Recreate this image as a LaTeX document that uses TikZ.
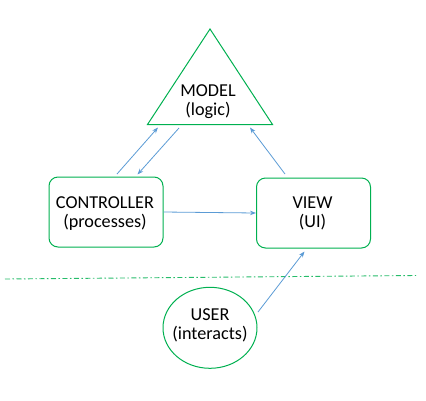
\documentclass[tikz,border=0pt]{standalone}
\usepackage{fontspec}
\setmainfont{Carlito}
\usetikzlibrary{arrows.meta,shapes.geometric}
\definecolor{boxgreen}{RGB}{0,176,80}
\definecolor{arrowblue}{RGB}{91,155,213}
\begin{document}
\begin{tikzpicture}[x=1pt,y=-1pt,
  lbl/.style={align=center,font=\fontsize{18.2}{19.3}\selectfont,inner sep=0pt},
  roundbox/.style={draw=boxgreen,line width=1pt,rounded corners=9pt,minimum width=114pt,minimum height=70pt},
  shapeline/.style={draw=boxgreen,line width=1pt},
  conn/.style={draw=arrowblue,line width=0.8pt,-{Stealth[length=6pt,width=4.5pt]}},
  sep/.style={draw=boxgreen!85,line width=0.9pt,dash pattern=on 5pt off 2.5pt on 1.5pt off 2.5pt}]
\useasboundingbox (0,0) rectangle (426,400);
% triangle
\coordinate (apex) at (210,29);
\coordinate (bl) at (147.5,124.5);
\coordinate (br) at (272.5,124.5);
\draw[shapeline,line join=miter] (apex) -- (bl) -- (br) -- cycle;
\node[lbl] (model) at (208,101.5) {MODEL\\(logic)};
% boxes
\node[roundbox] (ctrl) at (106,212) {};
\node[lbl] (ctrltxt) at (105,213.5) {CONTROLLER\\(processes)};
\node[roundbox] (view) at (313.5,213) {};
\node[lbl] (viewtxt) at (312.5,213.5) {VIEW\\(UI)};
% user
\node[draw=boxgreen,line width=1pt,ellipse,minimum width=94pt,minimum height=81pt,inner sep=0pt] (user) at (210,327.8) {};
\node[lbl] (usertxt) at (210,325.5) {USER\\(interacts)};
% separator
\coordinate (sepL) at (5,279);
\coordinate (sepR) at (416,275.5);
\draw[sep] (sepL) -- (sepR);
% connector endpoints
\coordinate (c2mS) at (117,174);
\coordinate (c2mE) at (158,127.5);
\coordinate (m2cS) at (179,128);
\coordinate (m2cE) at (137.5,174.5);
\coordinate (v2mS) at (285,174);
\coordinate (v2mE) at (250,127.5);
\coordinate (u2vS) at (258,312);
\coordinate (u2vE) at (304.5,251.5);
\draw[conn] (c2mS) -- (c2mE);
\draw[conn] (m2cS) -- (m2cE);
\draw[conn] (v2mS) -- (v2mE);
\draw[conn] (ctrl.east) -- (view.west);
\draw[conn] (u2vS) -- (u2vE);
\end{tikzpicture}
\end{document}
